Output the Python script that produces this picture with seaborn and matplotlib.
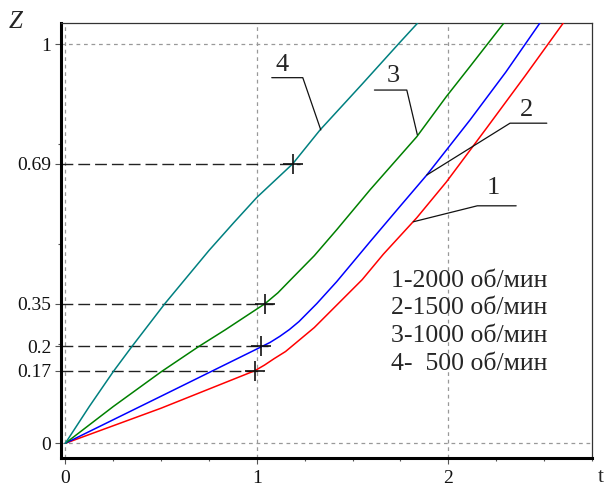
import matplotlib
matplotlib.use("Agg")
import matplotlib.pyplot as plt
import pandas as pd
import seaborn as sns

# curve 1 - 2000 rpm
t1 = [0, 0.5, 0.99, 1.04, 1.09, 1.15, 1.2, 1.3, 1.45, 1.55, 1.661, 1.835, 1.99, 2.2, 2.4, 2.6]
z1 = [0, 0.088, 0.182, 0.196, 0.212, 0.23, 0.25, 0.29, 0.362, 0.41, 0.474, 0.565, 0.655, 0.79, 0.92, 1.053]
# curve 2 - 1500 rpm
t2 = [0, 0.5, 1.02, 1.07, 1.12, 1.17, 1.22, 1.313, 1.417, 1.591, 1.75, 1.887, 2.113, 2.3, 2.478]
z2 = [0, 0.118, 0.241, 0.253, 0.268, 0.285, 0.305, 0.35, 0.405, 0.505, 0.595, 0.672, 0.81, 0.93, 1.053]
# curve 3 - 1000 rpm
t3 = [0, 0.25, 0.503, 0.695, 0.834, 1.043, 1.11, 1.173, 1.3, 1.417, 1.591, 1.835, 1.99, 2.113, 2.29]
z3 = [0, 0.092, 0.18, 0.242, 0.284, 0.35, 0.377, 0.408, 0.47, 0.535, 0.635, 0.768, 0.869, 0.944, 1.053]
# curve 4 - 500 rpm
t4 = [0, 0.125, 0.251, 0.347, 0.52, 0.75, 0.88, 1.0, 1.187, 1.33, 1.55, 1.748, 1.84]
z4 = [0, 0.092, 0.18, 0.242, 0.35, 0.483, 0.553, 0.616, 0.70, 0.785, 0.90, 1.005, 1.053]

curve_ids = ["1", "2", "3", "4"]
curve_colors = {"1": "#ff0000", "2": "#0000ff", "3": "#008000", "4": "#008080"}
legend_lines = ["1-2000 об/мин", "2-1500 об/мин", "3-1000 об/мин", "4-  500 об/мин"]

# marked points (cross + dashed line to the axis)
mark_t = [0.99, 1.02, 1.043, 1.187]
mark_z = [0.182, 0.243, 0.35, 0.70]
mark_labels = ["0.17", "0.2", "0.35", "0.69"]

frames = []
for cid, t, z in zip(curve_ids, [t1, t2, t3, t4], [z1, z2, z3, z4]):
    frames.append(pd.DataFrame({"t": t, "z": z, "curve": cid}))
curves = pd.concat(frames, ignore_index=True)

sns.set_theme(style="white")
plt.rcParams["font.family"] = ["Liberation Serif", "DejaVu Serif"]

fig = plt.figure(figsize=(6.08, 4.86), dpi=100)
ax = fig.add_axes([0.1003, 0.0566, 0.8734, 0.8961])

xmin, xmax = -0.0225, 2.75
ymin, ymax = -0.038, 1.053

grid_kw = dict(color="#999999", lw=0.9, ls=(0, (3, 3)), zorder=1)
for gx in [0, 1, 2]:
    ax.axvline(gx, **grid_kw)
for gy in [0, 1]:
    ax.axhline(gy, **grid_kw)

sns.lineplot(data=curves, x="t", y="z", hue="curve", palette=curve_colors,
             sort=False, estimator=None, legend=False, lw=1.1, ax=ax, zorder=3)

for mt, mz in zip(mark_t, mark_z):
    ax.plot([xmin, mt + 0.04], [mz, mz], color="#222222", lw=1.0,
            ls=(0, (8.5, 3.6)), zorder=2)
ax.plot(mark_t, mark_z, ls="none", marker="+", ms=15, mew=1.2, color="#111111", zorder=4)

# leader lines with curve numbers
leaders = {
    "4": ([1.078, 1.24, 1.334], [0.916, 0.916, 0.785], (1.13, 0.948)),
    "3": ([1.614, 1.783, 1.838], [0.885, 0.885, 0.773], (1.71, 0.919)),
    "2": ([2.514, 2.322, 1.887], [0.802, 0.802, 0.672], (2.406, 0.835)),
    "1": ([2.354, 2.151, 1.817], [0.595, 0.595, 0.555], (2.235, 0.639)),
}
for num, (lx, ly, (tx, ty)) in leaders.items():
    ax.plot(lx, ly, color="#111111", lw=0.9, zorder=5)
    ax.text(tx, ty, num, fontsize=19, ha="center", va="center", zorder=6)

for i, line in enumerate(legend_lines):
    ax.text(1.700, 0.4075 - i * 0.0695, line, fontsize=18.5, ha="left", va="center")

ax.set_xlim(xmin, xmax)
ax.set_ylim(ymin, ymax)
ax.set_xlabel("")
ax.set_ylabel("")

ax.set_xticks([0, 1, 2], ["0", "1", "2"])
ax.set_xticks([0.25 * i for i in range(12)], minor=True)
ax.set_yticks([0] + mark_z + [1], ["0"] + mark_labels + ["1"])
ax.set_yticks([0.25, 0.5, 0.75], minor=True)
ax.tick_params(axis="both", which="major", direction="out", length=4, width=0.8,
               color="#555555", labelsize=14, labelcolor="#111111", pad=3,
               bottom=True, left=True)
ax.tick_params(axis="x", which="major", pad=4)
ax.tick_params(axis="both", which="minor", direction="out", length=2.5, width=0.8,
               color="#555555", bottom=True, left=True)

for side in ["left", "bottom"]:
    ax.spines[side].set_linewidth(2.2)
    ax.spines[side].set_color("black")
for side in ["top", "right"]:
    ax.spines[side].set_linewidth(0.9)
    ax.spines[side].set_color("#333333")

fig.text(15.5 / 608, 1 - 22 / 486, "Z", fontsize=18, style="italic", ha="center", va="center")
fig.text(601 / 608, 1 - 477 / 486, "t", fontsize=15, ha="center", va="center")

fig.savefig("out.png", dpi=100)
plt.close(fig)
